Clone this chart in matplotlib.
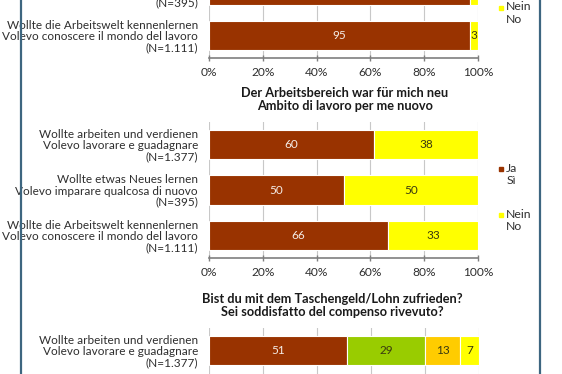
import numpy as np
import matplotlib
matplotlib.use("Agg")
import matplotlib.pyplot as plt
from matplotlib.lines import Line2D
import matplotlib.transforms as mtransforms

plt.rcParams['font.family'] = ['Lato', 'DejaVu Sans']

# ---------------- data ----------------
top_categories = [
    "Wollte arbeiten und verdienen\nVolevo lavorare e guadagnare\n(N=1.377)",
    "Wollte etwas Neues lernen\nVolevo imparare qualcosa di nuovo\n(N=395)",
    "Wollte die Arbeitswelt kennenlernen\nVolevo conoscere il mondo del lavoro\n(N=1.111)",
]
top_ja = [96, 96, 95]
top_nein = [3, 3, 3]

mid_title = "Der Arbeitsbereich war für mich neu\nAmbito di lavoro per me nuovo"
mid_categories = top_categories
mid_ja = [60, 50, 66]
mid_nein = [38, 50, 33]

bot_title = "Bist du mit dem Taschengeld/Lohn zufrieden?\nSei soddisfatto del compenso rivevuto?"
bot_categories = [
    "Wollte arbeiten und verdienen\nVolevo lavorare e guadagnare\n(N=1.377)",
]
bot_s1 = [51]
bot_s2 = [29]
bot_s3 = [13]
bot_s4 = [7]

yn_names = ["Ja\nSì", "Nein\nNo"]
x_ticks = [0, 20, 40, 60, 80, 100]
x_ticklabels = ["0%", "20%", "40%", "60%", "80%", "100%"]

# ---------------- style ----------------
BROWN = "#993300"
YELLOW = "#FFFF00"
GREEN = "#99CC00"
ORANGE = "#FFCC00"
TXT = "#2e2e2e"

W, H = 562, 374
fig = plt.figure(figsize=(W / 100, H / 100), dpi=100)


def px_axes(left, top, right, bottom):
    return fig.add_axes([left / W, 1 - bottom / H, (right - left) / W, (bottom - top) / H])


def draw(ax, cats, series, colors, nslots=3):
    vals = np.array(series, dtype=float)
    totals = vals.sum(axis=0)
    y = np.arange(len(cats))
    left = np.zeros(len(cats))
    for i, row in enumerate(vals):
        w = row / totals * 100
        ax.barh(y, w, left=left, height=0.64, color=colors[i],
                edgecolor="white", linewidth=0.8, zorder=2)
        for j in range(len(cats)):
            ax.text(left[j] + w[j] / 2, y[j], f"{int(row[j])}",
                    ha="center", va="center", fontsize=8.5,
                    color="#f4ece6" if colors[i] == BROWN else "#3a3a10", zorder=3)
        left = left + w
    ax.set_xlim(0, 100)
    ax.set_ylim(nslots - 0.5, -0.5)
    ax.set_yticks(y)
    ax.set_yticklabels(cats, fontsize=8.5, color=TXT)
    for lbl in ax.get_yticklabels():
        lbl.set_linespacing(1.02)
    ax.tick_params(axis="y", length=0, pad=8)
    ax.set_xticks(x_ticks)
    ax.set_xticklabels(x_ticklabels, fontsize=8.6, color=TXT)
    ax.tick_params(axis="x", direction="inout", length=5, width=1, color="#7f7f7f", pad=3.8)
    ax.grid(axis="x", color="#c8c8c8", linewidth=0.8, zorder=0)
    for s in ("top", "right", "left"):
        ax.spines[s].set_visible(False)
    ax.spines["bottom"].set_color("#7f7f7f")
    ax.spines["bottom"].set_linewidth(1.2)
    ax.set_axisbelow(True)


def legend_item(ax, ypx_from_bottom, axes_hpx, color, label):
    yfrac = ypx_from_bottom / axes_hpx
    ax.plot([1.087], [yfrac], marker="s", markersize=3.4, color=color,
            transform=ax.transAxes, clip_on=False, linestyle="none")
    off = mtransforms.ScaledTranslation(0, 6.5 / 100, fig.dpi_scale_trans)
    ax.text(1.105, yfrac, label, transform=ax.transAxes + off, ha="left", va="top",
            fontsize=8.8, color=TXT, linespacing=1.15)


# top (partially visible)
ax1 = px_axes(209, -77, 478, 58)
draw(ax1, top_categories, [top_ja, top_nein], [BROWN, YELLOW])
legend_item(ax1, 58 - 8, 135, YELLOW, yn_names[1])
legend_item(ax1, 58 - 8 + 46, 135, BROWN, yn_names[0])

# middle
ax2 = px_axes(209, 122, 478, 258)
draw(ax2, mid_categories, [mid_ja, mid_nein], [BROWN, YELLOW])
ax2.set_title(mid_title, fontsize=9.2, fontweight="bold", color="#1a1a1a", pad=8.5,
              x=0.505, linespacing=1.1)
legend_item(ax2, 258 - 169, 136, BROWN, yn_names[0])
legend_item(ax2, 258 - 215, 136, YELLOW, yn_names[1])

# bottom (partially visible)
ax3 = px_axes(209, 328, 479, 463)
draw(ax3, bot_categories, [bot_s1, bot_s2, bot_s3, bot_s4], [BROWN, GREEN, ORANGE, YELLOW])
ax3.set_title(bot_title, fontsize=9.2, fontweight="bold", color="#1a1a1a", pad=8.5,
              x=0.457, linespacing=1.1)

# frame lines
for xpx in (20.5, 540):
    fig.add_artist(Line2D([xpx / W, xpx / W], [0, 1], color="#3d6680", linewidth=1.6))

fig.savefig("out.png", dpi=100, facecolor="white")
